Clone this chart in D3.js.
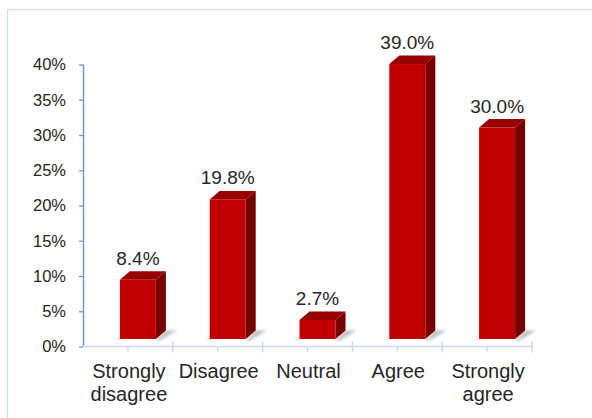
<!DOCTYPE html>
<html>
<head>
<meta charset="utf-8">
<script src="https://cdn.jsdelivr.net/npm/d3@7/dist/d3.min.js"></script>
<style>
  html, body { margin: 0; padding: 0; background: #fff; }
  svg { display: block; font-family: "Liberation Sans", Arial, sans-serif; }
</style>
</head>
<body>
<svg id="chart" width="592" height="418"></svg>
<script>
// Survey response distribution (percent of respondents)
const categories = [["Strongly", "disagree"], ["Disagree"], ["Neutral"], ["Agree"], ["Strongly", "agree"]];
const values = [8.4, 19.8, 2.7, 39.0, 30.0];
const yTicks = [0, 5, 10, 15, 20, 25, 30, 35, 40];

(function draw() {
  const svg = d3.select("#chart");
  const W = 592, H = 418;

  // Panel geometry
  const plotL = 83, plotR = 532, plotT = 64.5, plotB = 346.5;
  const floorLift = 7.5;     // front face sits above the axis line (3D floor)
  const depthX = 10, depthY = 8.5;
  const barW = 36, barShift = -8;

  const keys = categories.map(c => c.join(" "));
  const x = d3.scaleBand().domain(keys).range([plotL, plotR]).paddingInner(0).paddingOuter(0);
  const y = d3.scaleLinear().domain([0, 40]).range([plotB, plotT]);

  // Outer frame (top and left edges visible)
  svg.append("rect")
    .attr("x", 7.5).attr("y", 9.5)
    .attr("width", W + 20).attr("height", H + 20)
    .attr("fill", "none").attr("stroke", "#cfdcee").attr("stroke-width", 1);

  // Shadow filter
  const defs = svg.append("defs");
  defs.append("filter").attr("id", "soft").attr("x", "-50%").attr("y", "-50%").attr("width", "200%").attr("height", "200%")
    .append("feGaussianBlur").attr("stdDeviation", 1.8);

  // Y axis
  const yAxis = d3.axisLeft(y)
    .tickValues(yTicks)
    .tickFormat(d => d + "%")
    .tickSize(4)
    .tickPadding(13);
  const gy = svg.append("g").attr("transform", `translate(${plotL},0)`).call(yAxis);
  gy.select(".domain").attr("stroke", "#6b9ad6").attr("stroke-width", 1.5)
    .attr("d", `M0.5,${plotT}V${plotB}`);
  gy.selectAll(".tick line").attr("stroke", "#6b9ad6").attr("stroke-width", 1.3);
  gy.selectAll(".tick text").attr("fill", "#262626").style("font-size", "16.5px");

  // X axis line with boundary and centre ticks
  const gx = svg.append("g");
  gx.append("line")
    .attr("x1", plotL).attr("x2", plotR)
    .attr("y1", plotB).attr("y2", plotB)
    .attr("stroke", "#c8daf1").attr("stroke-width", 1.5);
  const bounds = keys.map(k => x(k)).concat([plotR]);
  gx.selectAll("line.major").data(bounds.slice(1)).join("line")
    .attr("class", "major")
    .attr("x1", d => d).attr("x2", d => d)
    .attr("y1", plotB - 5).attr("y2", plotB + 6)
    .attr("stroke", "#c8daf1").attr("stroke-width", 1.5);
  gx.selectAll("line.minor").data(keys).join("line")
    .attr("class", "minor")
    .attr("x1", k => x(k) + x.bandwidth() / 2).attr("x2", k => x(k) + x.bandwidth() / 2)
    .attr("y1", plotB).attr("y2", plotB + 5)
    .attr("stroke", "#c8daf1").attr("stroke-width", 1.5);

  // 3D bars
  const base = y(0) - floorLift;
  const data = keys.map((k, i) => ({ key: k, value: values[i] }));
  const bars = svg.selectAll("g.bar").data(data).join("g").attr("class", "bar");

  bars.each(function(d) {
    const g = d3.select(this);
    const fx = x(d.key) + x.bandwidth() / 2 + barShift;
    const ft = y(d.value) - floorLift;
    const rx = fx + barW;

    // floor shadow
    g.append("path")
      .attr("d", `M${rx},${base + 1}L${rx + depthX},${base - depthY}L${rx + depthX + 11},${base - depthY}L${rx + 4},${base + 1.5}Z`)
      .attr("fill", "#8a8a8a").attr("opacity", 0.55).attr("filter", "url(#soft)");
    g.append("path")
      .attr("d", `M${fx - 5},${base + 0.5}L${fx},${base - 2}L${fx + 4},${base + 1}Z`)
      .attr("fill", "#9a9a9a").attr("opacity", 0.4).attr("filter", "url(#soft)");

    // side face
    g.append("path")
      .attr("d", `M${rx},${ft}L${rx + depthX},${ft - depthY}L${rx + depthX},${base - depthY}L${rx},${base}Z`)
      .attr("fill", "#760000");
    // top face
    g.append("path")
      .attr("d", `M${fx},${ft}L${fx + depthX},${ft - depthY}L${rx + depthX},${ft - depthY}L${rx},${ft}Z`)
      .attr("fill", "#990000");
    // front face
    g.append("rect")
      .attr("x", fx).attr("y", ft)
      .attr("width", barW).attr("height", base - ft)
      .attr("fill", "#c00000");

    // value label
    g.append("text")
      .attr("x", fx + barW / 2).attr("y", ft - 15)
      .attr("text-anchor", "middle")
      .attr("fill", "#262626")
      .style("font-size", "19px")
      .text(d.value.toFixed(1) + "%");
  });

  // Category labels
  svg.selectAll("text.cat").data(categories).join("text")
    .attr("class", "cat")
    .attr("text-anchor", "middle")
    .attr("fill", "#262626")
    .style("font-size", "20px")
    .each(function(lines, i) {
      const cx = x(keys[i]) + x.bandwidth() / 2 + 1;
      d3.select(this).selectAll("tspan").data(lines).join("tspan")
        .attr("x", cx)
        .attr("y", (l, j) => 378 + j * 23)
        .text(l => l);
    });
})();
</script>
</body>
</html>
